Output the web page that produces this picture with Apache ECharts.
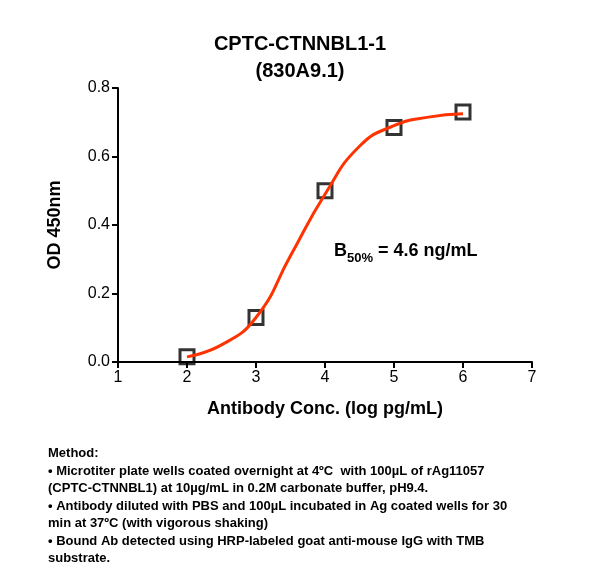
<!DOCTYPE html>
<html>
<head>
<meta charset="utf-8">
<script src="https://cdn.jsdelivr.net/npm/echarts@6/dist/echarts.min.js"></script>
<style>
  html, body { margin: 0; padding: 0; background: #fff; }
  #chart { width: 600px; height: 588px; }
</style>
</head>
<body>
<div id="chart"></div>
<script>
// Measured points (log pg/mL, OD 450nm)
const pointX = [2, 3, 4, 5, 6];
const pointY = [0.015, 0.13, 0.5, 0.685, 0.73];

// Fitted curve
const curveX = [2, 2.5, 3, 3.5, 4, 4.5, 5, 5.5, 6];
const curveY = [0.015, 0.05, 0.13, 0.31, 0.49, 0.63, 0.69, 0.715, 0.725];

const xTicks = [1, 2, 3, 4, 5, 6, 7];
const yTicks = [0, 0.2, 0.4, 0.6, 0.8];

const methodLines = [
  "Method:",
  "\u2022 Microtiter plate wells coated overnight at 4\u00baC  with 100\u00b5L of rAg11057",
  "(CPTC-CTNNBL1) at 10\u00b5g/mL in 0.2M carbonate buffer, pH9.4.",
  "\u2022 Antibody diluted with PBS and 100\u00b5L incubated in Ag coated wells for 30",
  "min at 37\u00baC (with vigorous shaking)",
  "\u2022 Bound Ab detected using HRP-labeled goat anti-mouse IgG with TMB",
  "substrate."
];

const chart = echarts.init(document.getElementById("chart"));
const font = "Liberation Sans, Arial, sans-serif";

chart.setOption({
  animation: false,
  title: {
    text: "CPTC-CTNNBL1-1\n(830A9.1)",
    left: "center",
    top: 26,
    textStyle: { fontFamily: font, fontSize: 20, fontWeight: "bold", color: "#000", lineHeight: 27 }
  },
  grid: { left: 118, right: 68, top: 88, bottom: 226 },
  xAxis: {
    type: "value",
    min: xTicks[0],
    max: xTicks[xTicks.length - 1],
    interval: 1,
    name: "Antibody Conc. (log pg/mL)",
    nameLocation: "middle",
    nameGap: 38,
    nameTextStyle: { fontFamily: font, fontSize: 18, fontWeight: "bold", color: "#000" },
    axisLine: { lineStyle: { color: "#000", width: 2 } },
    axisTick: { lineStyle: { color: "#000", width: 2 }, length: 6 },
    axisLabel: { fontFamily: font, fontSize: 16, color: "#000" },
    splitLine: { show: false }
  },
  yAxis: {
    type: "value",
    min: yTicks[0],
    max: yTicks[yTicks.length - 1],
    interval: 0.2,
    name: "OD 450nm",
    nameLocation: "middle",
    nameGap: 54,
    nameTextStyle: { fontFamily: font, fontSize: 18, fontWeight: "bold", color: "#000" },
    axisLine: { show: true, lineStyle: { color: "#000", width: 2 } },
    axisTick: { show: true, lineStyle: { color: "#000", width: 2 }, length: 6 },
    axisLabel: { fontFamily: font, fontSize: 16, color: "#000", formatter: v => v.toFixed(1) },
    splitLine: { show: false }
  },
  series: [
    {
      type: "line",
      smooth: true,
      symbol: "none",
      data: curveX.map((x, i) => [x, curveY[i]]),
      lineStyle: { color: "#ff3300", width: 3 }
    },
    {
      type: "scatter",
      symbol: "rect",
      symbolSize: 14,
      data: pointX.map((x, i) => [x, pointY[i]]),
      itemStyle: { color: "rgba(0,0,0,0)", borderColor: "#000", borderWidth: 3 }
    }
  ],
  graphic: [
    {
      type: "text",
      left: 334,
      top: 242,
      style: {
        text: "{b|B}{s|50%}{b| = 4.6 ng/mL}",
        rich: {
          b: { fontFamily: font, fontSize: 18, fontWeight: "bold", fill: "#000", verticalAlign: "top" },
          s: { fontFamily: font, fontSize: 13, fontWeight: "bold", fill: "#000", padding: [10, 0, 0, 0] }
        }
      }
    },
    {
      type: "text",
      left: 48,
      top: 445,
      style: {
        text: methodLines.join("\n"),
        fontFamily: font,
        fontSize: 13,
        fontWeight: "bold",
        lineHeight: 17.5,
        fill: "#000"
      }
    }
  ]
});
</script>
</body>
</html>
